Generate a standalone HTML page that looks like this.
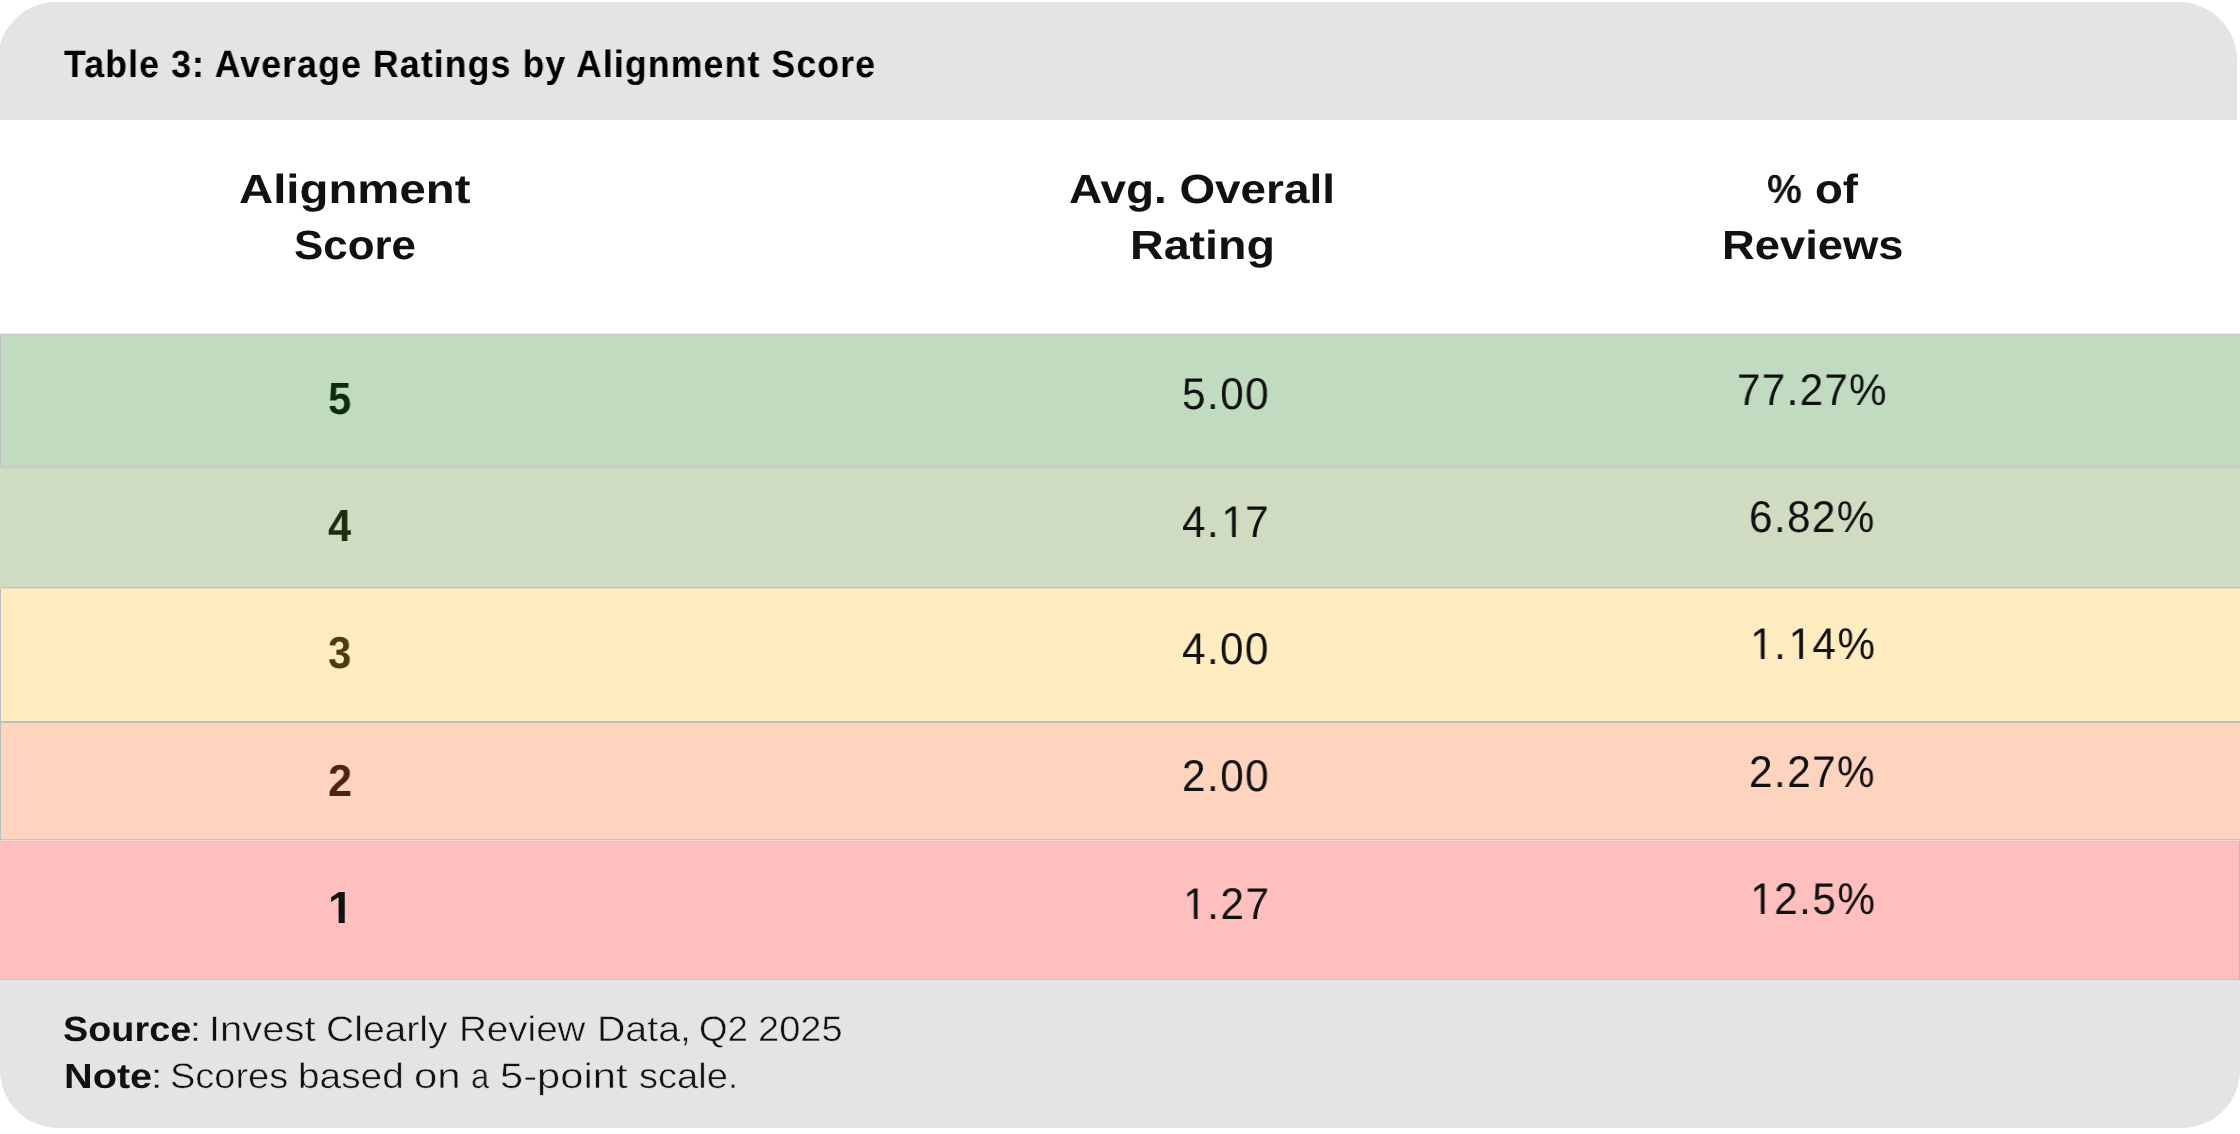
<!DOCTYPE html>
<html lang="en">
<head>
<meta charset="utf-8">
<title>Table 3: Average Ratings by Alignment Score</title>
<style>
  html, body { margin: 0; padding: 0; }
  html { width: 2240px; height: 1134px; background: #ffffff; }
  body {
    width: 2240px; height: 1134px; overflow: hidden; position: relative;
    background: #ffffff;
    font-family: "Liberation Sans", sans-serif;
    font-size: 16px;
    color: #111111;
  }
  .abs { position: absolute; }

  /* grey title band (top of rounded card) and grey notes band (bottom of rounded card) */
  #band-top    { left: -2.5px; top: 2px;   width: 2239.6px; height: 117.6px;  background: #e4e4e4; border-radius: 58px 58px 0 0; }
  #band-bottom { left: 0.4px;  top: 980px; width: 2239.3px; height: 147.8px;  background: #e4e4e4; border-radius: 0 0 58px 58px; }

  /* heat-map row fills */
  .row { position: absolute; }
  #r1 { left: 1px; top: 335px; width: 2239px; height: 131px; background: #c1dbc0; }
  #r2 { left: 0;   top: 468px; width: 2240px; height: 119px; background: #cfdcc1; }
  #r3 { left: 1px; top: 589px; width: 2239px; height: 132px; background: #ffecc0; }
  #r4 { left: 1px; top: 723px; width: 2239px; height: 116px; background: #ffd4bf; }
  #r5 { left: 0;   top: 842px; width: 2239px; height: 137px; background: #ffbfbf; }

  /* hairline row borders (1px) */
  .ln { position: absolute; left: 0; width: 2240px; height: 1px; }
  .lv { position: absolute; width: 1px; }

  /* text */
  .t { position: absolute; white-space: nowrap; line-height: 1; transform-origin: 0 0; margin: 0; padding: 0; font-weight: normal; will-change: transform; text-rendering: geometricPrecision; }
  .b { font-weight: bold; }
  /* Liberation's "1" carries a foot serif that the reference face lacks: clip the foot off, keep the stem */
  .o { display: inline-block; position: relative; left: 0.03em; clip-path: polygon(-0.2em -0.3em, 1.2em -0.3em, 1.2em 0.66em, 0.355em 0.66em, 0.355em 0.733em, 0.3385em 0.733em, 0.3385em 1.3em, 0.253em 1.3em, 0.253em 0.733em, 0.2365em 0.733em, 0.2365em 0.66em, -0.2em 0.66em); }
  .b .o { left: 0; clip-path: polygon(-0.2em -0.3em, 1.2em -0.3em, 1.2em 0.64em, 0.3856em 0.64em, 0.3856em 0.706em, 0.3695em 0.706em, 0.3695em 1.3em, 0.2345em 1.3em, 0.2345em 0.706em, 0.2184em 0.706em, 0.2184em 0.64em, -0.2em 0.64em); }
</style>
</head>
<body>
<div id="band-top" class="abs"></div>
<div id="band-bottom" class="abs"></div>

<div id="r1" class="row"></div>
<div id="r2" class="row"></div>
<div id="r3" class="row"></div>
<div id="r4" class="row"></div>
<div id="r5" class="row"></div>

<!-- hairline borders between rows (horizontal) -->
<div class="ln" style="top:333px; background:#ecf0ec;"></div>
<div class="ln" style="top:334px; background:#c0cfc0;"></div>
<div class="ln" style="top:465px; background:#c1d6c1;"></div>
<div class="ln" style="top:466px; background:#c8cec8;"></div>
<div class="ln" style="top:467px; background:#c4c7c0;"></div>
<div class="ln" style="top:587px; background:#c6c7c2;"></div>
<div class="ln" style="top:588px; background:#e1dac4;"></div>
<div class="ln" style="top:721px; background:#b9bcc0;"></div>
<div class="ln" style="top:722px; background:#bbbec2;"></div>
<div class="ln" style="top:839px; background:#ccc5c0;"></div>
<div class="ln" style="top:840px; background:#eedddd;"></div>
<div class="ln" style="top:841px; background:#e0bcbc;"></div>
<div class="ln" style="top:979px; background:#d0bebe;"></div>
<!-- hairline borders at the visible row ends (vertical) -->
<div class="lv" style="left:0; top:334px; height:132px; background:#bfbec0;"></div>
<div class="lv" style="left:0; top:589px; height:133px; background:#bbbcc4;"></div>
<div class="lv" style="left:0; top:722px; height:118px; background:#b8bec2;"></div>
<div class="lv" style="left:2239px; top:841px; height:139px; background:#b9bcbc;"></div>


<!-- card title -->
<div id="title" class="t b" style="left:63.9px; top:45.8px; font-size:38.1px; color:#000000; letter-spacing:1.20px; transform:scaleX(0.9360);">Table 3: Average Ratings by Alignment Score</div>

<!-- column headers (two lines each) -->
<div id="h1a" class="t b" style="left:238.8px; top:169.3px; font-size:40.7px; color:#111111; transform:scaleX(1.1634);">Alignment</div>
<div id="h1b" class="t b" style="left:293.7px; top:225.3px; font-size:40.7px; color:#111111; transform:scaleX(1.0777);">Score</div>
<div id="h2a" class="t b" style="left:1069.0px; top:169.3px; font-size:40.7px; color:#111111; transform:scaleX(1.1269);">Avg. Overall</div>
<div id="h2b" class="t b" style="left:1130.3px; top:225.3px; font-size:40.7px; color:#111111; transform:scaleX(1.1453);">Rating</div>
<div id="h3a" class="t b" style="left:1767.0px; top:169.3px; font-size:40.7px; color:#111111; transform:scaleX(0.9614);">%</div>
<div id="h3c" class="t b" style="left:1814.8px; top:169.3px; font-size:40.7px; color:#111111; transform:scaleX(1.1183);">of</div>
<div id="h3b" class="t b" style="left:1721.7px; top:225.3px; font-size:40.7px; color:#111111; transform:scaleX(1.1142);">Reviews</div>

<!-- column 1: alignment score -->
<div id="a1" class="t b" style="left:327.8px; top:376.6px; font-size:44.9px; color:#0d2b0d; transform:scaleX(0.9308);">5</div>
<div id="a2" class="t b" style="left:328.4px; top:503.8px; font-size:44.9px; color:#1e2a0d; transform:scaleX(0.9373);">4</div>
<div id="a3" class="t b" style="left:327.6px; top:630.8px; font-size:44.9px; color:#4d3a10; transform:scaleX(0.9325);">3</div>
<div id="a4" class="t b" style="left:327.8px; top:758.9px; font-size:44.9px; color:#4d230d; transform:scaleX(0.9647);">2</div>
<div id="a5" class="t b" style="left:327.5px; top:886.0px; font-size:44.9px; color:#111111; transform:scaleX(1.0092);"><span class="o">1</span></div>

<!-- column 2: average overall rating -->
<div id="b1" class="t" style="left:1182.1px; top:373.2px; font-size:44.5px; color:#111111; letter-spacing:1.58px; transform:scaleX(0.9490);">5.00</div>
<div id="b2" class="t" style="left:1182.0px; top:501.2px; font-size:44.5px; color:#111111; letter-spacing:1.56px; transform:scaleX(0.9490);">4.<span class="o">1</span>7</div>
<div id="b3" class="t" style="left:1182.4px; top:628.2px; font-size:44.5px; color:#111111; letter-spacing:1.45px; transform:scaleX(0.9490);">4.00</div>
<div id="b4" class="t" style="left:1181.8px; top:755.1px; font-size:44.5px; color:#111111; letter-spacing:1.51px; transform:scaleX(0.9490);">2.00</div>
<div id="b5" class="t" style="left:1181.6px; top:883.2px; font-size:44.5px; color:#111111; letter-spacing:1.70px; transform:scaleX(0.9490);"><span class="o">1</span>.27</div>

<!-- column 3: share of reviews -->
<div id="c1" class="t" style="left:1736.8px; top:369.2px; font-size:44.5px; color:#111111; letter-spacing:1.34px; transform:scaleX(0.9490);">77.27%</div>
<div id="c2" class="t" style="left:1749.4px; top:495.9px; font-size:44.5px; color:#111111; letter-spacing:1.46px; transform:scaleX(0.9490);">6.82%</div>
<div id="c3" class="t" style="left:1749.0px; top:623.1px; font-size:44.5px; color:#111111; letter-spacing:1.63px; transform:scaleX(0.9490);"><span class="o">1</span>.<span class="o">1</span>4%</div>
<div id="c4" class="t" style="left:1749.0px; top:750.9px; font-size:44.5px; color:#111111; letter-spacing:1.52px; transform:scaleX(0.9490);">2.27%</div>
<div id="c5" class="t" style="left:1749.0px; top:878.1px; font-size:44.5px; color:#111111; letter-spacing:1.63px; transform:scaleX(0.9490);"><span class="o">1</span>2.5%</div>

<!-- source / note lines -->
<div id="f1a" class="t b" style="left:62.7px; top:1011.6px; font-size:35.0px; color:#111111; transform:scaleX(1.0803);">Source</div>
<div id="f2a" class="t b" style="left:63.9px; top:1058.7px; font-size:35.0px; color:#111111; transform:scaleX(1.1338);">Note</div>
<div id="p0" class="t" style="left:188.6px; top:1012.7px; font-size:34.9px; color:#111111; transform:scaleX(1.3261); -webkit-text-stroke:0.5px #e4e4e4;">:</div>
<div id="p1" class="t" style="left:209.1px; top:1011.5px; font-size:35.5px; color:#111111; transform:scaleX(1.1251); -webkit-text-stroke:0.5px #e4e4e4;">Invest</div>
<div id="p2" class="t" style="left:325.9px; top:1012.2px; font-size:35.5px; color:#111111; transform:scaleX(1.1004); -webkit-text-stroke:0.5px #e4e4e4;">Clearly</div>
<div id="p3" class="t" style="left:458.5px; top:1011.5px; font-size:35.5px; color:#111111; transform:scaleX(1.0866); -webkit-text-stroke:0.5px #e4e4e4;">Review</div>
<div id="p4" class="t" style="left:596.7px; top:1011.5px; font-size:35.5px; color:#111111; transform:scaleX(1.1065); -webkit-text-stroke:0.5px #e4e4e4;">Data,</div>
<div id="p5" class="t" style="left:699.2px; top:1011.5px; font-size:35.5px; color:#111111; transform:scaleX(1.0337); -webkit-text-stroke:0.5px #e4e4e4;">Q2</div>
<div id="p6" class="t" style="left:757.8px; top:1011.5px; font-size:35.5px; color:#111111; transform:scaleX(1.0712); -webkit-text-stroke:0.5px #e4e4e4;">2025</div>
<div id="q0" class="t" style="left:150.2px; top:1059.8px; font-size:34.9px; color:#111111; transform:scaleX(1.3640); -webkit-text-stroke:0.5px #e4e4e4;">:</div>
<div id="q1" class="t" style="left:169.5px; top:1058.8px; font-size:35.5px; color:#111111; transform:scaleX(1.0703); -webkit-text-stroke:0.5px #e4e4e4;">Scores</div>
<div id="q2" class="t" style="left:297.5px; top:1059.0px; font-size:35.5px; color:#111111; transform:scaleX(1.0931); -webkit-text-stroke:0.5px #e4e4e4;">based</div>
<div id="q3" class="t" style="left:414.2px; top:1059.0px; font-size:35.5px; color:#111111; transform:scaleX(1.1802); -webkit-text-stroke:0.5px #e4e4e4;">on</div>
<div id="q4" class="t" style="left:470.8px; top:1058.8px; font-size:35.5px; color:#111111; transform:scaleX(0.9177); -webkit-text-stroke:0.5px #e4e4e4;">a</div>
<div id="q5" class="t" style="left:499.7px; top:1058.9px; font-size:35.5px; color:#111111; transform:scaleX(1.1743); -webkit-text-stroke:0.5px #e4e4e4;">5-point</div>
<div id="q6" class="t" style="left:638.5px; top:1058.9px; font-size:35.5px; color:#111111; transform:scaleX(1.0716); -webkit-text-stroke:0.5px #e4e4e4;">scale.</div>
</body>
</html>
